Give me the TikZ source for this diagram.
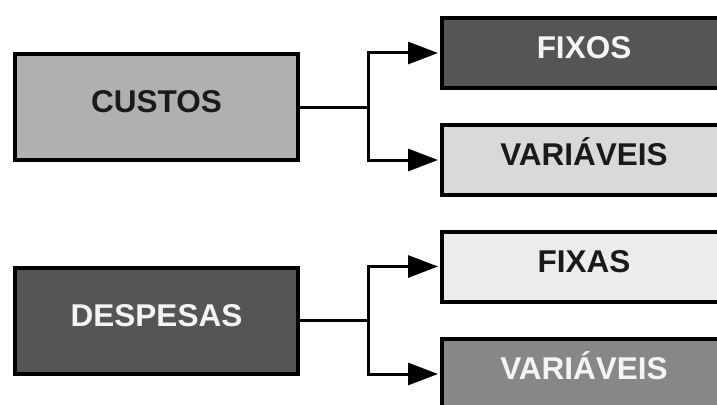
\documentclass[tikz,border=0pt]{standalone}
\usepackage{fontspec}
\setmainfont{Liberation Sans}
\usetikzlibrary{arrows.meta}
\definecolor{gA}{HTML}{B0B0B0}
\definecolor{gDark}{HTML}{555555}
\definecolor{gLight}{HTML}{D9D9D9}
\definecolor{gLighter}{HTML}{ECECEC}
\definecolor{gMid}{HTML}{878787}
\definecolor{txtDark}{HTML}{1A1A1A}
\definecolor{txtLight}{HTML}{F4F4F4}
\tikzset{
  box/.style={draw=black, line width=4pt, rectangle, inner sep=0pt,
    font=\fontsize{31.5}{31.5}\selectfont\bfseries, text height=22pt, text depth=11pt},
  leftbox/.style={box, minimum width=283pt, minimum height=106pt},
  rightbox/.style={box, minimum width=284pt, minimum height=70pt},
  conn/.style={draw=black, line width=3pt},
  arr/.style={conn, -{Triangle[length=30pt,width=22pt]}, shorten >=2pt}
}
\begin{document}
\begin{tikzpicture}[x=1pt,y=-1pt]
\useasboundingbox (0,0) rectangle (717,404);
\clip (0,0) rectangle (717,404);
\fill[white] (0,0) rectangle (717,404);

\node[leftbox, fill=gA, text=txtDark] (custos) at (156.5,107) {CUSTOS};
\node[leftbox, fill=gDark, text=txtLight] (despesas) at (156.5,320.5) {DESPESAS};

\node[rightbox, fill=gDark, text=txtLight] (fixos) at (584,53) {FIXOS};
\node[rightbox, fill=gLight, text=txtDark] (var1) at (584,160) {VARIÁVEIS};
\node[rightbox, fill=gLighter, text=txtDark] (fixas) at (584,266.5) {FIXAS};
\node[rightbox, fill=gMid, text=txtLight] (var2) at (584,374) {VARIÁVEIS};

\coordinate (j1) at (368,107);
\coordinate (j2) at (368,320.5);

\draw[conn] (custos.east) -- (j1);
\draw[arr] (j1) |- (fixos.west);
\draw[arr] (j1) |- (var1.west);

\draw[conn] (despesas.east) -- (j2);
\draw[arr] (j2) |- (fixas.west);
\draw[arr] (j2) |- (var2.west);
\end{tikzpicture}
\end{document}
